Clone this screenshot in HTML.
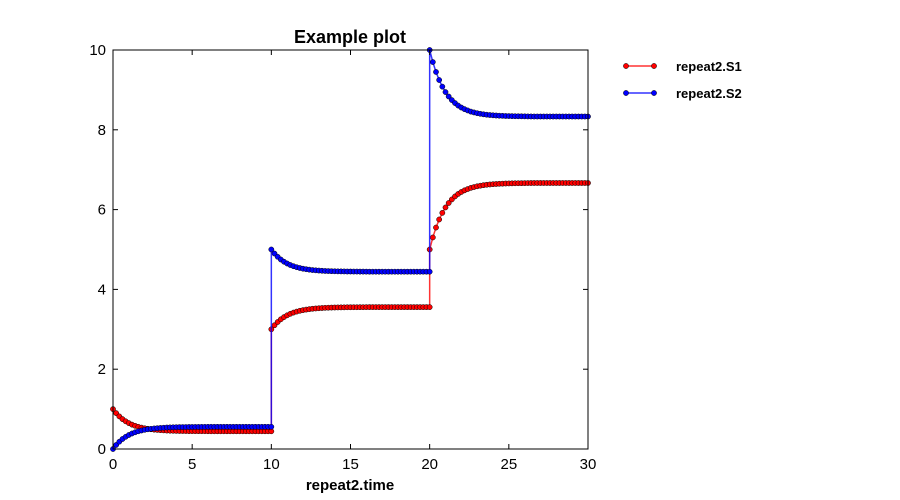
<!DOCTYPE html>
<html><head><meta charset="utf-8"><style>
body{margin:0;background:#fff;}
svg{display:block;font-family:"Liberation Sans","DejaVu Sans",sans-serif;}
</style></head><body>
<svg id="chart" width="900" height="500"></svg>
<script>
const seg1T0 = 0, seg2T0 = 10, seg3T0 = 20;
const xTicks = [0,5,10,15,20,25,30];
const yTicks = [0,2,4,6,8,10];
const seriesNames = ["repeat2.S1","repeat2.S2"];
const s1Seg1 = [1.000,.899,.817,.749,.694,.649,.611,.581,.556,.536,.519,.506,.495,.485,.478,.472,.467,.462,.459,.456,.454,.452,.451,.450,.448,.448,.447,.447,.446,.446,.445,.444,.444,.444,.444,.444,.444,.444,.444,.444,.444,.444,.444,.444,.444,.444,.444,.444,.444,.444,.444];
const s2Seg1 = [0,.101,.183,.251,.306,.351,.389,.419,.444,.464,.481,.494,.505,.515,.522,.528,.533,.538,.541,.544,.546,.548,.549,.550,.552,.552,.553,.553,.554,.554,.555,.556,.556,.556,.556,.556,.556,.556,.556,.556,.556,.556,.556,.556,.556,.556,.556,.556,.556,.556,.556];
const s1Seg2 = [3.000,3.101,3.183,3.251,3.306,3.351,3.389,3.419,3.444,3.464,3.481,3.494,3.505,3.515,3.522,3.528,3.533,3.538,3.541,3.544,3.546,3.548,3.549,3.550,3.552,3.552,3.553,3.553,3.554,3.554,3.555,3.556,3.556,3.556,3.556,3.556,3.556,3.556,3.556,3.556,3.556,3.556,3.556,3.556,3.556,3.556,3.556,3.556,3.556,3.556,3.556];
const s2Seg2 = [5.000,4.899,4.817,4.749,4.694,4.649,4.611,4.581,4.556,4.536,4.519,4.506,4.495,4.485,4.478,4.472,4.467,4.462,4.459,4.456,4.454,4.452,4.451,4.450,4.448,4.448,4.447,4.447,4.446,4.446,4.445,4.444,4.444,4.444,4.444,4.444,4.444,4.444,4.444,4.444,4.444,4.444,4.444,4.444,4.444,4.444,4.444,4.444,4.444,4.444,4.444];
const s1Seg3 = [5.000,5.302,5.550,5.752,5.918,6.054,6.165,6.255,6.330,6.392,6.442,6.482,6.515,6.544,6.565,6.584,6.599,6.612,6.622,6.630,6.637,6.642,6.647,6.650,6.654,6.656,6.658,6.660,6.661,6.662,6.663,6.665,6.666,6.667,6.667,6.667,6.667,6.667,6.667,6.667,6.667,6.667,6.667,6.667,6.667,6.667,6.667,6.667,6.667,6.667,6.667];
const s2Seg3 = [10.000,9.698,9.450,9.248,9.082,8.946,8.835,8.745,8.670,8.608,8.558,8.518,8.485,8.456,8.435,8.416,8.401,8.388,8.378,8.370,8.363,8.358,8.353,8.350,8.346,8.344,8.342,8.340,8.339,8.338,8.337,8.335,8.334,8.333,8.333,8.333,8.333,8.333,8.333,8.333,8.333,8.333,8.333,8.333,8.333,8.333,8.333,8.333,8.333,8.333,8.333];
const stepT = 0.2;

const NS="http://www.w3.org/2000/svg";
const svg=document.getElementById('chart');
const L=113,R=588,T=50,B=449;
const xS=v=>L+(v/30)*(R-L);
const yS=v=>B-(v/10)*(B-T);
function mk(tag,attrs,parent){const e=document.createElementNS(NS,tag);for(const k in attrs)e.setAttribute(k,attrs[k]);(parent||svg).appendChild(e);return e;}

function build(segs,starts){const pts=[];segs.forEach((arr,si)=>arr.forEach((v,i)=>pts.push([starts[si]+i*stepT,v])));return pts;}
const starts=[seg1T0,seg2T0,seg3T0];
const s1=build([s1Seg1,s1Seg2,s1Seg3],starts);
const s2=build([s2Seg1,s2Seg2,s2Seg3],starts);

function drawSeries(pts,color,name){
  const g=mk('g',{});
  
  
  const line=mk('polyline',{points:pts.map(p=>xS(p[0])+','+yS(p[1])).join(' '),fill:'none',stroke:color,'stroke-width':1.5,'stroke-opacity':0.8},g);
  
  
  pts.forEach(p=>{
    const c=mk('circle',{cx:xS(p[0]),cy:yS(p[1]),r:2.6,fill:color,stroke:'#000','stroke-width':0.5},g);
    
    
  });
}
drawSeries(s1,'#ff0000','series-s1');
drawSeries(s2,'#0000ff','series-s2');

const fr=mk('rect',{x:L,y:T,width:R-L,height:B-T,fill:'none',stroke:'#000','stroke-width':1});


xTicks.forEach(v=>{
  const x=xS(v);
  mk('line',{x1:x,x2:x,y1:B,y2:B-5,stroke:'#000'});
  mk('line',{x1:x,x2:x,y1:T,y2:T+5,stroke:'#000'});
  const t=mk('text',{x:x,y:B+20,'text-anchor':'middle','font-size':15});
  t.textContent=v;
  
  
});
yTicks.forEach(v=>{
  const y=yS(v);
  mk('line',{x1:L,x2:L+5,y1:y,y2:y,stroke:'#000'});
  mk('line',{x1:R,x2:R-5,y1:y,y2:y,stroke:'#000'});
  const t=mk('text',{x:L-7,y:y+5,'text-anchor':'end','font-size':15});
  t.textContent=v;
  
  
});
const title=mk('text',{x:350,y:43,'text-anchor':'middle','font-size':18,'font-weight':'bold'});
title.textContent='Example plot';


const xl=mk('text',{x:350,y:490,'text-anchor':'middle','font-size':15,'font-weight':'bold'});
xl.textContent='repeat2.time';



const colors=['#ff0000','#0000ff'];
seriesNames.forEach((n,i)=>{
  const y=66+i*27;
  const g=mk('g',{});
  
  
  mk('line',{x1:626,x2:654,y1:y,y2:y,stroke:colors[i],'stroke-width':1.5,'stroke-opacity':0.8},g);
  mk('circle',{cx:626,cy:y,r:2.6,fill:colors[i],stroke:'#000','stroke-width':0.5},g);
  mk('circle',{cx:654,cy:y,r:2.6,fill:colors[i],stroke:'#000','stroke-width':0.5},g);
  const t=mk('text',{x:676,y:y+5,'font-size':13,'font-weight':'bold'},g);
  t.textContent=n;
});
</script>
</body></html>
